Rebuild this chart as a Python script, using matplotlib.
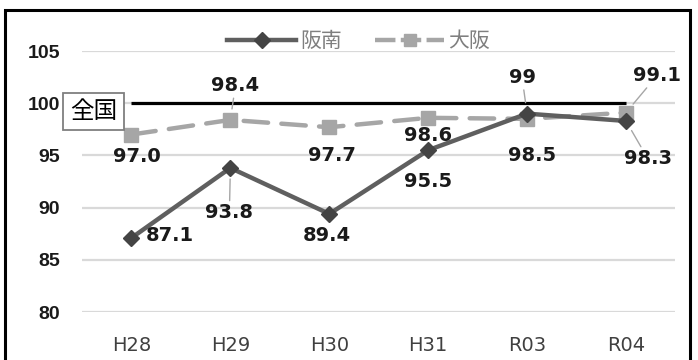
import matplotlib
matplotlib.use("Agg")
import matplotlib.pyplot as plt
from matplotlib.lines import Line2D
from matplotlib.patches import Rectangle

categories = ["H28", "H29", "H30", "H31", "R03", "R04"]
hannan = [87.1, 93.8, 89.4, 95.5, 99, 98.3]
osaka = [97.0, 98.4, 97.7, 98.6, 98.5, 99.1]
zenkoku = [100, 100, 100, 100, 100, 100]
hannan_labels = ["87.1", "93.8", "89.4", "95.5", "99", "98.3"]
osaka_labels = ["97.0", "98.4", "97.7", "98.6", "98.5", "99.1"]
yticks = [80, 85, 90, 95, 100, 105]

CJK = ["Noto Sans CJK JP", "DejaVu Sans"]

fig = plt.figure(figsize=(6.98, 3.6), dpi=100)
ax = fig.add_axes([0.1175, 0.1333, 0.8502, 0.725])
x = list(range(len(categories)))

ax.set_xlim(-0.5, len(categories) - 0.5)
ax.set_ylim(80, 105)
ax.set_yticks(yticks)
ax.yaxis.grid(True, color="#d9d9d9", lw=1.6)
ax.set_axisbelow(True)
for s in ax.spines.values():
    s.set_visible(False)
ax.tick_params(length=0)
ax.set_xticks(x)
ax.set_xticklabels(categories, fontsize=14, color="#404040", family="DejaVu Sans")
ax.tick_params(axis="x", pad=17)
ax.tick_params(axis="y", pad=16)
for lab in ax.get_yticklabels():
    lab.set_fontweight("bold")
    lab.set_fontsize(14)
    lab.set_family("Liberation Sans")
    lab.set_color("#1a1a1a")

# national line
ax.plot(x, zenkoku, color="black", lw=2.3, zorder=2, solid_capstyle="butt")

# Osaka
ax.plot(x, osaka, color="#a6a6a6", lw=3.2, dashes=(5.5, 3.0), dash_capstyle="round",
        marker="s", markersize=10, markerfacecolor="#a6a6a6", markeredgecolor="#a6a6a6",
        zorder=3)
# Hannan
ax.plot(x, hannan, color="#5f5f5f", lw=3.2, marker="D", markersize=8.5,
        markerfacecolor="#444444", markeredgecolor="#444444", zorder=4,
        solid_capstyle="round")

lab_kw = dict(textcoords="offset pixels", fontsize=14, fontweight="bold",
              family="DejaVu Sans", color="#1a1a1a", ha="center", va="center",
              zorder=6)
lead = dict(arrowstyle="-", color="#a6a6a6", lw=1.0, shrinkA=0, shrinkB=8)

hannan_off = [(38, 2), (-1, -45), (-2, -22), (0, -31), (-5, 36), (22, -38)]
hannan_lead = [False, True, False, False, True, True]
for i, (v, t) in enumerate(zip(hannan, hannan_labels)):
    kw = dict(lab_kw)
    if hannan_lead[i]:
        kw["arrowprops"] = lead
    ax.annotate(t, (x[i], v), xytext=hannan_off[i], **kw)

osaka_off = [(5, -22), (5, 34), (3, -28), (0, -18), (5, -37), (31, 37)]
osaka_lead = [False, True, False, False, False, True]
for i, (v, t) in enumerate(zip(osaka, osaka_labels)):
    kw = dict(lab_kw)
    if osaka_lead[i]:
        kw["arrowprops"] = lead
    ax.annotate(t, (x[i], v), xytext=osaka_off[i], **kw)

# 全国 label box
ax.text(-0.385, 99.2, "全国", fontsize=17, family=CJK, color="black",
        ha="center", va="center", zorder=7, clip_on=False,
        bbox=dict(boxstyle="square,pad=0.3", fc="white", ec="#7f7f7f", lw=1.3))

# legend
handles = [
    Line2D([], [], color="#5f5f5f", lw=3.2, marker="D", markersize=8,
           markerfacecolor="#444444", markeredgecolor="#444444"),
    Line2D([], [], color="#a6a6a6", lw=3.2, dashes=(4.6, 1.2), marker="s", markersize=8,
           markerfacecolor="#a6a6a6", markeredgecolor="#a6a6a6"),
]
leg = fig.legend(handles, ["阪南", "大阪"], loc="center", bbox_to_anchor=(0.514, 0.885),
                 ncol=2, frameon=False, handlelength=3.3, columnspacing=1.6,
                 handletextpad=0.2, prop={"family": CJK, "size": 15})
for t in leg.get_texts():
    t.set_color("#7f7f7f")

# outer frame
fig.add_artist(Rectangle((5 / 698, -0.05), (690 - 5) / 698, 1.05 - 10 / 360,
                         transform=fig.transFigure, fill=False, ec="black", lw=2.2))

fig.savefig("out.png", dpi=100)
